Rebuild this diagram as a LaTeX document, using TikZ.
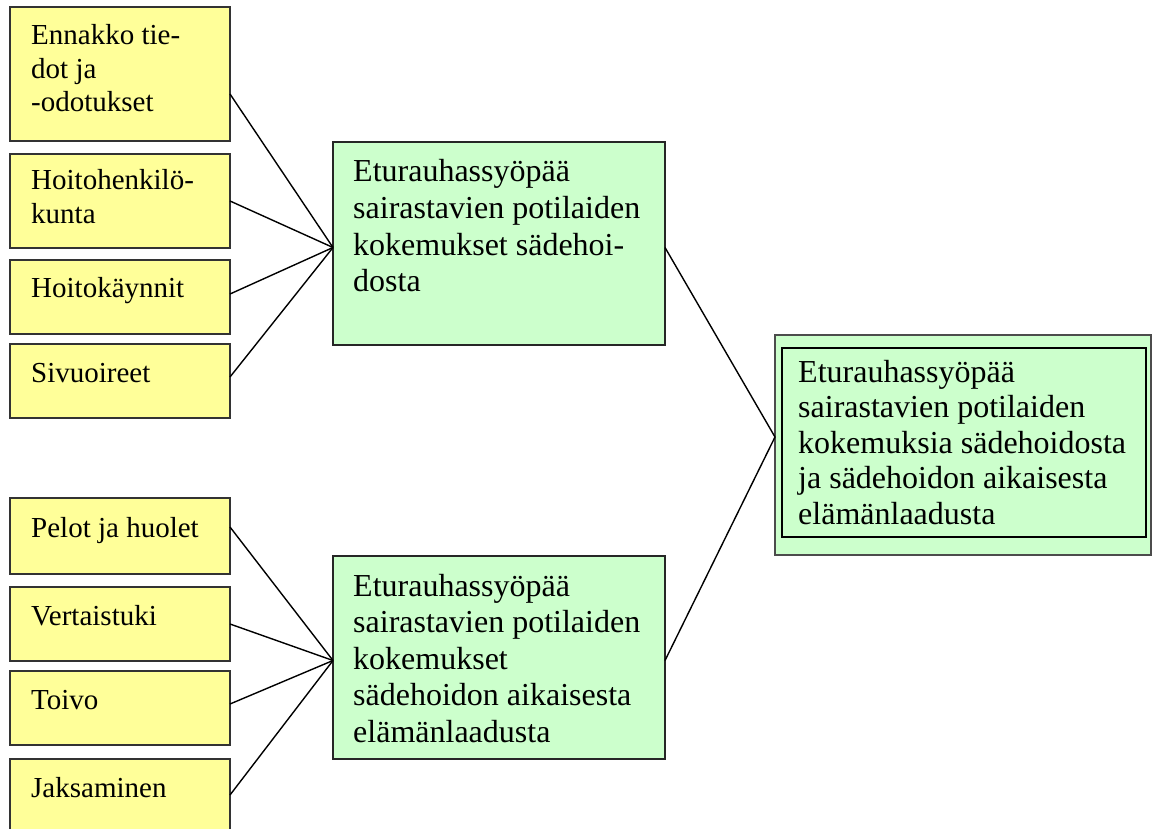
\documentclass[tikz,border=0pt]{standalone}
\usepackage{fontspec}
\setmainfont{Liberation Serif}
\definecolor{yel}{HTML}{FFFF99}
\definecolor{grn}{HTML}{CCFFCC}
\begin{document}
\begin{tikzpicture}[x=1pt,y=-1pt,
  ybox/.style={draw=black!80, fill=yel, line width=1.2pt, anchor=north west, inner sep=0pt, outer sep=0pt, minimum width=220pt},
  gbox/.style={draw=black!85, fill=grn, line width=1.2pt, anchor=north west, inner sep=0pt, outer sep=0pt},
  ytext/.style={anchor=base west, inner sep=0pt, font=\fontsize{29}{33.4}\selectfont},
  gtext/.style={anchor=base west, inner sep=0pt, font=\fontsize{32}{36.6}\selectfont},
  rtext/.style={anchor=base west, inner sep=0pt, font=\fontsize{32}{35.6}\selectfont},
  conn/.style={line width=1.4pt, black}]
\useasboundingbox (0,0) rectangle (1154,829);
\clip (0,0) rectangle (1154,829);
% yellow boxes
\node[ybox, minimum height=134pt] (y1) at (10,7) {};
\node[ybox, minimum height=94pt] (y2) at (10,154) {};
\node[ybox, minimum height=74pt] (y3) at (10,260) {};
\node[ybox, minimum height=74pt] (y4) at (10,344) {};
\node[ybox, minimum height=76pt] (y5) at (10,498) {};
\node[ybox, minimum height=74pt] (y6) at (10,587) {};
\node[ybox, minimum height=74pt] (y7) at (10,671) {};
\node[ybox, minimum height=74pt] (y8) at (10,759) {};
% green boxes
\node[gbox, minimum width=332pt, minimum height=203pt] (g1) at (333,142) {};
\node[gbox, minimum width=332pt, minimum height=203pt] (g2) at (333,556) {};
\node[gbox, draw=black!70, minimum width=376pt, minimum height=220pt] (r) at (775,335) {};
\node[draw=black, line width=2.4pt, anchor=north west, inner sep=0pt, outer sep=0pt, minimum width=364pt, minimum height=189pt] (ri) at (782,348) {};
% texts
\node[ytext] (t1) at (31,45) {\begin{tabular}[t]{@{}l@{}}Ennakko tie-\\dot ja\\-odotukset\end{tabular}};
\node[ytext] (t2) at (31,190) {\begin{tabular}[t]{@{}l@{}}Hoitohenkilö-\\kunta\end{tabular}};
\node[ytext] (t3) at (31,298) {Hoitokäynnit};
\node[ytext] (t4) at (31,382) {Sivuoireet};
\node[ytext] (t5) at (31,537) {Pelot ja huolet};
\node[ytext] (t6) at (31,625) {Vertaistuki};
\node[ytext] (t7) at (31,709) {Toivo};
\node[ytext] (t8) at (31,797) {Jaksaminen};
\node[gtext] (tg1) at (353,182) {\begin{tabular}[t]{@{}l@{}}Eturauhassyöpää\\sairastavien potilaiden\\kokemukset sädehoi-\\dosta\end{tabular}};
\node[gtext] (tg2) at (353,596) {\begin{tabular}[t]{@{}l@{}}Eturauhassyöpää\\sairastavien potilaiden\\kokemukset\\sädehoidon aikaisesta\\elämänlaadusta\end{tabular}};
\node[rtext] (tr) at (798,382) {\begin{tabular}[t]{@{}l@{}}Eturauhassyöpää\\sairastavien potilaiden\\kokemuksia sädehoidosta\\ja sädehoidon aikaisesta\\elämänlaadusta\end{tabular}};
% connectors
\draw[conn] ([yshift=-20pt]y1.east) -- ([yshift=-4pt]g1.west);
\draw[conn] (y2.east) -- ([yshift=-4pt]g1.west);
\draw[conn] ([yshift=3pt]y3.east) -- ([yshift=-4pt]g1.west);
\draw[conn] ([yshift=4pt]y4.east) -- ([yshift=-4pt]g1.west);
\draw[conn] ([yshift=9pt]y5.east) -- ([yshift=-3pt]g2.west);
\draw[conn] (y6.east) -- ([yshift=-3pt]g2.west);
\draw[conn] ([yshift=4pt]y7.east) -- ([yshift=-3pt]g2.west);
\draw[conn] ([yshift=1pt]y8.east) -- ([yshift=-3pt]g2.west);
\draw[conn] ([yshift=-4pt]g1.east) -- ([yshift=8pt]r.west);
\draw[conn] ([yshift=-3pt]g2.east) -- ([yshift=8pt]r.west);
\end{tikzpicture}
\end{document}
